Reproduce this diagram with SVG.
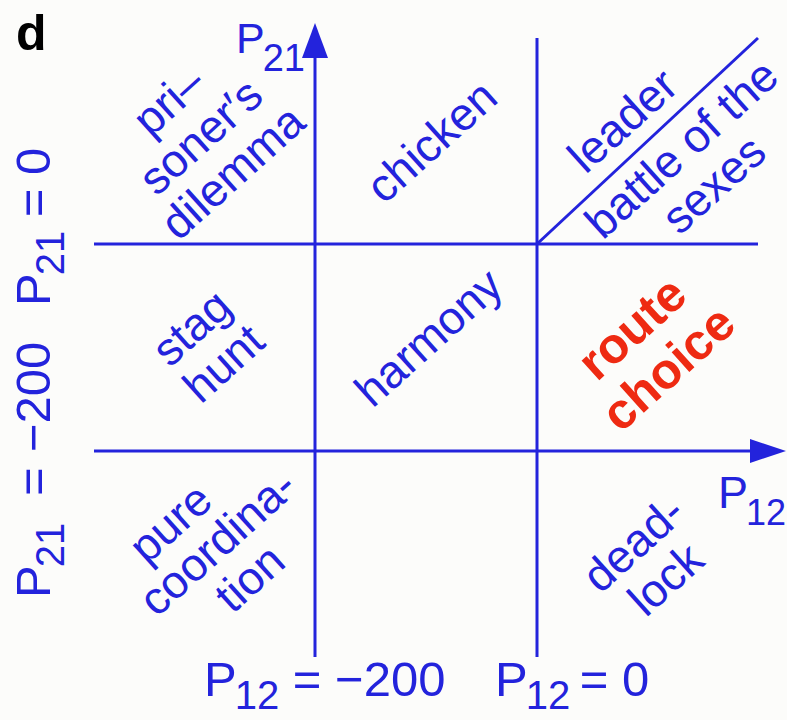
<svg xmlns="http://www.w3.org/2000/svg" width="787" height="720" viewBox="0 0 787 720">
<style>
.t{font-family:"Liberation Sans",Arial,sans-serif;font-size:46px;fill:#2323dc;text-anchor:middle}
.ax{font-family:"Liberation Sans",Arial,sans-serif;font-size:49px;fill:#2323dc}
.sub{font-size:40px}
.red{fill:#ee2a12;font-weight:bold;font-size:50px}
.ln{stroke:#2323dc;stroke-width:3;fill:none}
.ah{fill:#2323dc}
</style>
<rect width="787" height="720" fill="#fcfcfa"/>
<g id="connectors">
<line class="ln" x1="315" y1="50" x2="315" y2="657"/>
<polygon class="ah" points="315,23 302,58 328,58"/>
<line class="ln" x1="537" y1="38" x2="537" y2="657"/>
<line class="ln" x1="94" y1="244" x2="758" y2="244"/>
<line class="ln" x1="94" y1="451" x2="760" y2="451"/>
<polygon class="ah" points="786,451 750,439 750,463"/>
<line class="ln" x1="537" y1="244" x2="758" y2="38"/>
</g>
<g id="panel-label"><text x="16" y="50" style="font-family:'Liberation Sans',Arial,sans-serif;font-size:50px;font-weight:bold;fill:#000">d</text></g>
<g id="axis-p21"><text class="ax" x="236" y="53" style="font-size:43px">P<tspan style="font-size:38px" dx="-2" dy="18">21</tspan></text></g>
<g id="axis-p12"><text class="ax" x="718" y="508" style="font-size:45px">P<tspan style="font-size:36px" dx="-2" dy="17">12</tspan></text></g>
<g id="label-p12-m200"><text class="ax" x="204" y="696">P<tspan class="sub" dx="-2" dy="13">12</tspan><tspan dy="-13"> = −200</tspan></text></g>
<g id="label-p12-0"><text class="ax" x="495" y="696">P<tspan class="sub" dx="-2" dy="13">12</tspan><tspan dy="-13" dx="-4"> = 0</tspan></text></g>
<g id="label-p21-0"><text class="ax" transform="translate(50,306) rotate(-90)">P<tspan class="sub" dx="-2" dy="14">21</tspan><tspan dy="-14"> = 0</tspan></text></g>
<g id="label-p21-m200"><text class="ax" transform="translate(50,598) rotate(-90)">P<tspan class="sub" dx="-2" dy="14">21</tspan><tspan dy="-14" x="102">=</tspan><tspan x="146">−200</tspan></text></g>
<g id="prisoners-dilemma"><text class="t" transform="translate(201,137) rotate(-42)"><tspan x="0" y="-33">pri–</tspan><tspan x="0" y="15">soner′s</tspan><tspan x="0" y="63">dilemma</tspan></text></g>
<g id="chicken"><text class="t" transform="translate(432,142) rotate(-42)"><tspan x="0" y="15">chicken</tspan></text></g>
<g id="leader"><text class="t" transform="translate(623,121) rotate(-42)"><tspan x="0" y="15">leader</tspan></text></g>
<g id="battle-of-the-sexes"><text class="t" transform="translate(698,167) rotate(-42)"><tspan x="0" y="-9">battle of the</tspan><tspan x="0" y="39">sexes</tspan></text></g>
<g id="stag-hunt"><text class="t" transform="translate(208,346) rotate(-42)"><tspan x="0" y="-9">stag</tspan><tspan x="0" y="39">hunt</tspan></text></g>
<g id="harmony"><text class="t" transform="translate(429,338) rotate(-42)"><tspan x="0" y="15">harmony</tspan></text></g>
<g id="route-choice"><text class="t red" transform="translate(650,348) rotate(-42)"><tspan x="0" y="-10">route</tspan><tspan x="0" y="44">choice</tspan></text></g>
<g id="pure-coordination"><text class="t" transform="translate(218,543) rotate(-42)"><tspan x="-22" y="-31">pure</tspan><tspan x="0" y="15">coordina-</tspan><tspan x="0" y="63">tion</tspan></text></g>
<g id="deadlock"><text class="t" transform="translate(650,562) rotate(-42)"><tspan x="0" y="-9">dead-</tspan><tspan x="0" y="39">lock</tspan></text></g>
</svg>
